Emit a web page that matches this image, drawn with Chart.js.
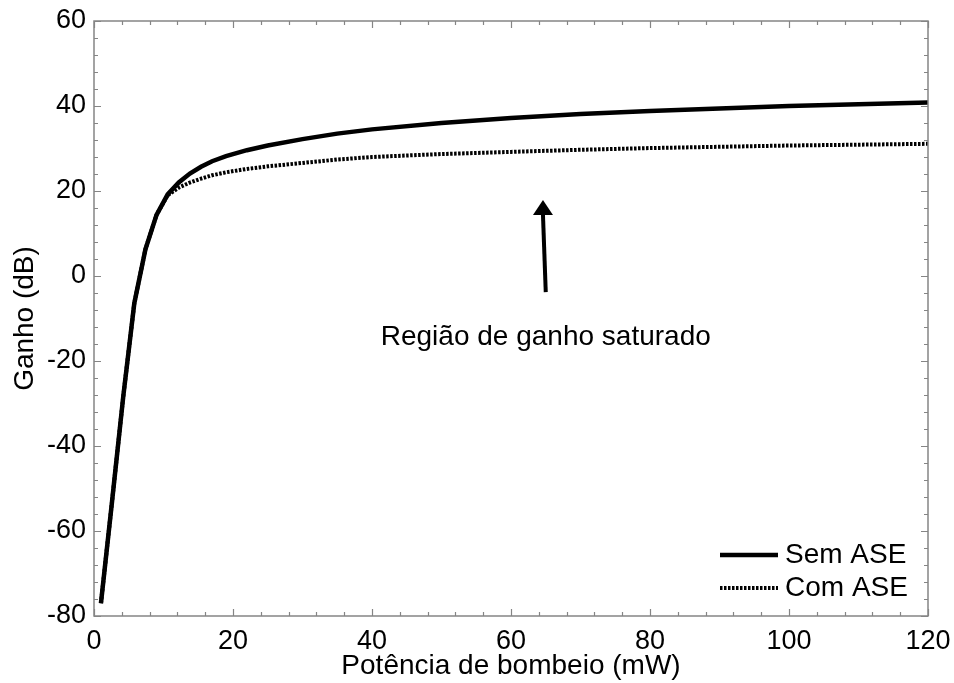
<!DOCTYPE html>
<html>
<head>
<meta charset="utf-8">
<script src="https://cdn.jsdelivr.net/npm/chart.js@4/dist/chart.umd.min.js"></script>
<style>
  html, body { margin: 0; padding: 0; background: #fff; }
  #wrap { width: 954px; height: 683px; }
</style>
</head>
<body>
<div id="wrap"><canvas id="chart-gain"></canvas></div>
<script>
// pump power (mW) and gain (dB)
const pumpPower = [1, 2.6, 4.2, 5.8, 7.4, 9, 10.6, 12.2, 13.8, 15.4, 17, 19, 22, 25, 30, 35, 40, 50, 60, 70, 80, 90, 100, 110, 120];
const gainNoASE = [-77, -53, -28.5, -6.4, 6.3, 14.4, 19.2, 22.0, 24.1, 25.7, 27.0, 28.2, 29.6, 30.7, 32.2, 33.5, 34.5, 36.0, 37.2, 38.1, 38.8, 39.4, 40.0, 40.4, 40.8];
const gainWithASE = [-77, -53, -28.5, -6.4, 6.3, 14.4, 19.0, 20.8, 22.0, 22.9, 23.7, 24.4, 25.2, 25.8, 26.6, 27.4, 28.0, 28.7, 29.2, 29.7, 30.1, 30.4, 30.7, 30.9, 31.1];

const seriesNames = ['Sem ASE', 'Com ASE'];
const xTickValues = [0, 20, 40, 60, 80, 100, 120];
const yTickValues = [-80, -60, -40, -20, 0, 20, 40, 60];
const minorStep = 4;

const annotationText = 'Região de ganho saturado';
const arrowFrom = { x: 65.0, y: -3.8 };
const arrowTo = { x: 64.6, y: 17.9 };
const textAt = { x: 65.0, y: -14.4 };

const FONT = '"Liberation Sans", Arial, sans-serif';
const AXIS_GRAY = '#858585';

function toPoints(xs, ys) {
    return xs.map((x, i) => ({ x: x, y: ys[i] }));
}

// frame with inward major/minor ticks on all four sides
const framePlugin = {
    id: 'frame',
    afterDraw(chart) {
        const { ctx, chartArea: a, scales } = chart;
        const xs = scales.x, ys = scales.y;
        ctx.save();
        ctx.strokeStyle = AXIS_GRAY;
        ctx.lineWidth = 1.5;
        ctx.strokeRect(a.left, a.top, a.right - a.left, a.bottom - a.top);
        ctx.lineWidth = 1.2;
        ctx.beginPath();
        for (let v = xs.min; v <= xs.max + 1e-9; v += minorStep) {
            const len = (Math.round(v) % 20 === 0) ? 7 : 4;
            const px = Math.round(xs.getPixelForValue(v)) + 0.5;
            ctx.moveTo(px, a.bottom); ctx.lineTo(px, a.bottom - len);
            ctx.moveTo(px, a.top); ctx.lineTo(px, a.top + len);
        }
        for (let v = ys.min; v <= ys.max + 1e-9; v += minorStep) {
            const len = (Math.round(v) % 20 === 0) ? 7 : 4;
            const py = Math.round(ys.getPixelForValue(v)) + 0.5;
            ctx.moveTo(a.left, py); ctx.lineTo(a.left + len, py);
            ctx.moveTo(a.right, py); ctx.lineTo(a.right - len, py);
        }
        ctx.stroke();
        ctx.restore();
    }
};

// arrow + annotation text
const annotationPlugin = {
    id: 'annot',
    afterDatasetsDraw(chart) {
        const { ctx, scales } = chart;
        const x0 = scales.x.getPixelForValue(arrowFrom.x);
        const y0 = scales.y.getPixelForValue(arrowFrom.y);
        const x1 = scales.x.getPixelForValue(arrowTo.x);
        const y1 = scales.y.getPixelForValue(arrowTo.y);
        const headLen = 15, headHalf = 10;
        ctx.save();
        ctx.strokeStyle = '#000';
        ctx.fillStyle = '#000';
        ctx.lineWidth = 4;
        ctx.beginPath();
        ctx.moveTo(x0, y0);
        ctx.lineTo(x1, y1 + headLen);
        ctx.stroke();
        ctx.beginPath();
        ctx.moveTo(x1, y1);
        ctx.lineTo(x1 - headHalf, y1 + headLen);
        ctx.lineTo(x1 + headHalf, y1 + headLen);
        ctx.closePath();
        ctx.fill();

        ctx.font = '28px ' + FONT;
        ctx.textAlign = 'center';
        ctx.textBaseline = 'middle';
        ctx.fillText(annotationText, scales.x.getPixelForValue(textAt.x), scales.y.getPixelForValue(textAt.y));
        ctx.restore();
    }
};

// legend in the lower right corner of the plot
const legendPlugin = {
    id: 'cornerLegend',
    afterDraw(chart) {
        const { ctx, chartArea: a } = chart;
        const rows = [
            { y: a.bottom - 61, dash: [], width: 4.5 },
            { y: a.bottom - 28, dash: [2.5, 1.5], width: 4 }
        ];
        ctx.save();
        ctx.font = '28px ' + FONT;
        ctx.textBaseline = 'middle';
        ctx.fillStyle = '#000';
        rows.forEach((r, i) => {
            ctx.strokeStyle = '#000';
            ctx.lineWidth = r.width;
            ctx.setLineDash(r.dash);
            ctx.beginPath();
            ctx.moveTo(a.right - 208, r.y);
            ctx.lineTo(a.right - 150, r.y);
            ctx.stroke();
            ctx.fillText(seriesNames[i], a.right - 143, r.y);
        });
        ctx.restore();
    }
};

new Chart(document.getElementById('chart-gain'), {
    type: 'line',
    data: {
        datasets: [
            {
                label: seriesNames[0],
                data: toPoints(pumpPower, gainNoASE),
                borderColor: '#000',
                borderWidth: 4.5,
                pointRadius: 0,
                tension: 0,
                order: 1
            },
            {
                label: seriesNames[1],
                data: toPoints(pumpPower, gainWithASE),
                borderColor: '#000',
                borderWidth: 4,
                borderDash: [2.5, 1.5],
                pointRadius: 0,
                tension: 0,
                order: 2
            }
        ]
    },
    options: {
        responsive: true,
        maintainAspectRatio: false,
        animation: false,
        layout: { padding: { top: 21, right: 26, bottom: 0, left: 8 } },
        plugins: {
            legend: { display: false },
            tooltip: { enabled: false }
        },
        scales: {
            x: {
                type: 'linear',
                min: 0,
                max: 120,
                afterBuildTicks: (s) => { s.ticks = xTickValues.map(v => ({ value: v })); },
                afterFit: (s) => { s.height = 67; s.paddingLeft = 0; s.paddingRight = 0; },
                grid: { display: false, drawTicks: false },
                border: { display: false },
                ticks: { color: '#000', font: { family: FONT, size: 27 }, padding: 9, maxRotation: 0 },
                title: {
                    display: true,
                    text: 'Potência de bombeio (mW)',
                    color: '#000',
                    font: { family: FONT, size: 28 },
                    padding: 0
                }
            },
            y: {
                type: 'linear',
                min: -80,
                max: 60,
                afterBuildTicks: (s) => { s.ticks = yTickValues.map(v => ({ value: v })); },
                afterFit: (s) => { s.width = 86; s.paddingTop = 0; s.paddingBottom = 0; },
                grid: { display: false, drawTicks: false },
                border: { display: false },
                ticks: { color: '#000', font: { family: FONT, size: 27 }, padding: 8 },
                title: {
                    display: true,
                    text: 'Ganho (dB)',
                    color: '#000',
                    font: { family: FONT, size: 28 },
                    padding: 0
                }
            }
        }
    },
    plugins: [framePlugin, annotationPlugin, legendPlugin]
});
</script>
</body>
</html>
